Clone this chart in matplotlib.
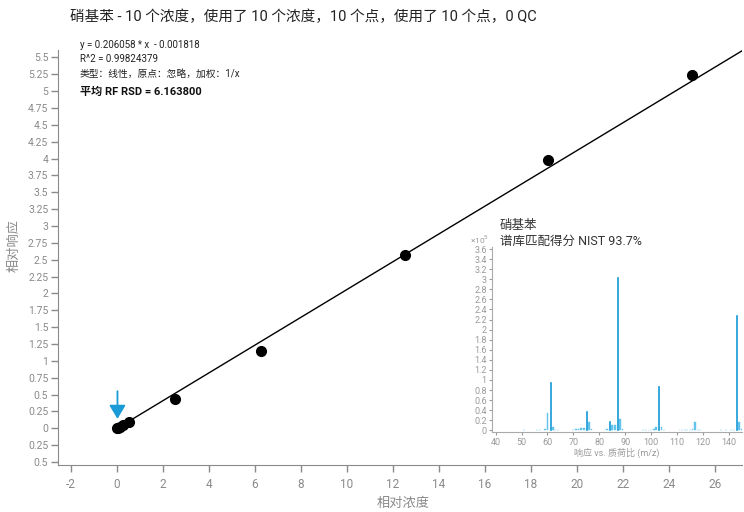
import numpy as np
import matplotlib
matplotlib.use('Agg')
import matplotlib.pyplot as plt
from matplotlib.ticker import FixedLocator, FuncFormatter

plt.rcParams['font.family'] = ['Roboto', 'Noto Sans CJK SC', 'DejaVu Sans']

# calibration data
conc = [0.01, 0.05, 0.125, 0.25, 0.5, 2.5, 6.25, 12.5, 18.75, 25]
resp = [0.0, 0.005, 0.025, 0.045, 0.09, 0.44, 1.15, 2.57, 3.98, 5.245]
slope, intercept = 0.206058, -0.001818

# library spectrum (m/z, intensity x 1e5)
mz_major = [61, 75, 84, 87, 103, 143]
int_major = [0.96, 0.39, 0.19, 3.05, 0.87, 2.28]
mz_minor = [51, 56, 57, 59, 60, 62, 63, 64, 70, 71, 72, 73, 74, 76, 77, 82, 83, 85, 86, 88, 89,
            97, 98, 99, 100, 101, 102, 104, 105, 111, 112, 113, 114, 115, 116, 117, 118, 119,
            137, 139, 141, 142, 144, 145]
int_minor = [0.01, 0.01, 0.01, 0.03, 0.34, 0.06, 0.01, 0.01, 0.01, 0.03, 0.03, 0.05, 0.04, 0.16, 0.03,
             0.01, 0.03, 0.11, 0.11, 0.23, 0.02,
             0.01, 0.01, 0.01, 0.01, 0.02, 0.06, 0.06, 0.01, 0.01, 0.01, 0.01, 0.01, 0.01, 0.02,
             0.16, 0.01, 0.01, 0.01, 0.01, 0.01, 0.01, 0.17, 0.02]

title = '硝基苯 - 10 个浓度，使用了 10 个浓度，10 个点，使用了 10 个点，0 QC'
grey = '#8a8a8a'
blue = '#1a9ad6'
light_blue = '#62c3ec'

fig = plt.figure(figsize=(7.44, 5.12), dpi=100)
ax = fig.add_axes([58 / 744, 47 / 512, 684 / 744, 415 / 512])

# regression line and points
xs = np.array([0, 27.2])
ax.plot(xs, slope * xs + intercept, color='black', lw=1.0, zorder=2)
ax.plot(conc, resp, 'o', color='black', markersize=7, zorder=3)
ax.annotate('', xy=(0.02, 0.14), xytext=(0.02, 0.55),
            arrowprops=dict(arrowstyle='-|>,head_length=0.55,head_width=0.33',
                            color=blue, lw=1.3, mutation_scale=15, shrinkA=0, shrinkB=0))

ax.set_xlim(-2.565, 27.17)
ax.set_ylim(-0.544, 5.609)
ax.xaxis.set_major_locator(FixedLocator(np.arange(-2, 27, 2)))
ax.yaxis.set_major_locator(FixedLocator(np.arange(-0.5, 5.51, 0.25)))
ax.xaxis.set_major_formatter(FuncFormatter(lambda v, p: f'{v:g}'))
ax.yaxis.set_major_formatter(FuncFormatter(lambda v, p: f'{abs(v):g}'))
for s in ['top', 'right']:
    ax.spines[s].set_visible(False)
for s in ['left', 'bottom']:
    ax.spines[s].set_color(grey)
ax.tick_params(axis='both', colors=grey, length=5, width=1)
ax.tick_params(axis='y', labelsize=7.5, pad=2)
ax.tick_params(axis='x', labelsize=8.5, pad=4)

fig.text(70 / 744, 1 - 17 / 512, title, fontsize=10.5, color='#222222', va='center')
fig.text(14 / 744, 1 - 245 / 512, '相对响应', rotation=90, fontsize=9.5, color=grey,
         ha='center', va='center')
fig.text(403 / 744, 1 - 503 / 512, '相对浓度', fontsize=9.5, color=grey,
         ha='center', va='center')

# fit info
info = ['y = 0.206058 * x  - 0.001818', 'R^2 = 0.99824379', '类型：线性，原点：忽略，加权：1/x']
for i, line in enumerate(info):
    fig.text(80 / 744, 1 - (45 + 14.5 * i) / 512, line, fontsize=7, color='#222222', va='center')
fig.text(80 / 744, 1 - 92 / 512, '平均 RF RSD = 6.163800', fontsize=8, fontweight='bold',
         color='#111111', va='center')

# inset spectrum with compressed gap above m/z 125
def fwd(x):
    return np.interp(x, [0, 124, 136, 300], [0, 124, 126, 290])

def inv(y):
    return np.interp(y, [0, 124, 126, 290], [0, 124, 136, 300])

ins = fig.add_axes([492.3 / 744, 80 / 512, 249.7 / 744, 185 / 512])
ins.patch.set_alpha(0)
ins.set_xscale('function', functions=(fwd, inv))
ins.bar(mz_minor, int_minor, width=0.7, color=light_blue, edgecolor=light_blue, linewidth=0.3)
ins.bar(mz_major, int_major, width=0.4, color=blue, edgecolor=blue, linewidth=0.5)
ins.set_xlim(38.7, 145.1)
ins.set_ylim(-0.034, 3.64)
ins.xaxis.set_major_locator(FixedLocator([40, 50, 60, 70, 80, 90, 100, 110, 120, 140]))
ins.yaxis.set_major_locator(FixedLocator(np.arange(0, 3.61, 0.2)))
ins.xaxis.set_major_formatter(FuncFormatter(lambda v, p: f'{v:g}'))
ins.yaxis.set_major_formatter(FuncFormatter(lambda v, p: f'{v:.1f}'.rstrip('0').rstrip('.')))
for s in ['top', 'right']:
    ins.spines[s].set_visible(False)
for s in ['left', 'bottom']:
    ins.spines[s].set_color('#aaaaaa')
ins.tick_params(axis='both', colors='#999999', labelsize=6.5, length=2.5, pad=1.5)
ins.set_xlabel('响应 vs. 质荷比 (m/z)', fontsize=6.5, color='#999999', labelpad=1)
fig.text(470 / 744, 1 - 240 / 512, '×10$^5$', fontsize=6, color='#999999', va='center')
fig.text(500 / 744, 1 - 226 / 512, '硝基苯', fontsize=9, color='#333333', va='center')
fig.text(500 / 744, 1 - 241 / 512, '谱库匹配得分 NIST 93.7%', fontsize=9, color='#333333', va='center')

fig.savefig('out.png', dpi=100)
